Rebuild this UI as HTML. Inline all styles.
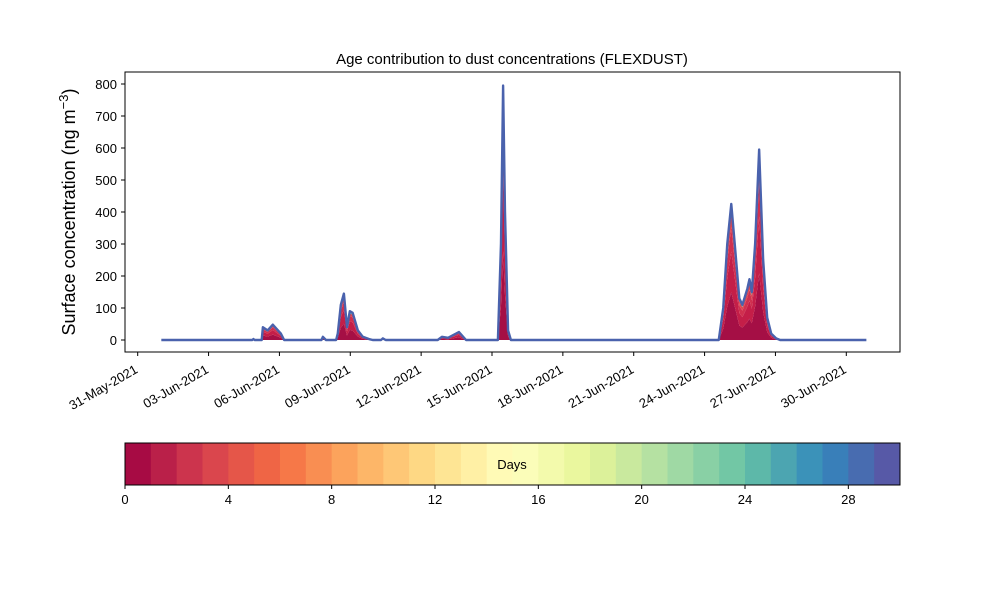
<!DOCTYPE html>
<html><head><meta charset="utf-8">
<style>
html,body{margin:0;padding:0;background:#fff;}
svg{display:block;font-family:"Liberation Sans","DejaVu Sans",sans-serif;}
</style></head>
<body>
<svg id="chart" width="1000" height="600" viewBox="0 0 1000 600">
  <text x="512" y="64" text-anchor="middle" font-size="15" fill="#000">Age contribution to dust concentrations (FLEXDUST)</text>
  <text transform="translate(75,212) rotate(-90)" text-anchor="middle" font-size="18" fill="#000">Surface concentration (ng m<tspan dy="-7" font-size="13">−3</tspan><tspan dy="7">)</tspan></text>
  <g id="plot"></g>
  <g id="cbar"></g>
</svg>
<script>
// Data: days since 31-May-2021 00:00, total concentration (ng m-3)
const times = [1,4.85,4.9,4.95,5.25,5.3,5.5,5.72,6.06,6.2,7.78,7.84,7.97,8.4,8.47,8.6,8.73,8.86,8.98,9.1,9.32,9.53,9.79,9.95,10.3,10.38,10.5,12.7,12.88,13.14,13.6,13.9,15.25,15.38,15.47,15.55,15.68,15.8,24.6,24.79,24.96,25.13,25.3,25.47,25.6,25.81,25.9,26.0,26.14,26.31,26.48,26.65,26.82,27.03,27.2,30.85];
const totals = [0,0,3,0,0,40,30,48,20,0,0,10,0,0,20,110,145,40,90,85,30,10,3,0,0,5,0,0,10,7,25,0,0,300,795,400,30,0,0,100,300,425,280,130,110,160,190,150,300,595,250,70,20,5,0,0];
const yTicks = [0,100,200,300,400,500,600,700,800];
const xTickLabels = ["31-May-2021","03-Jun-2021","06-Jun-2021","09-Jun-2021","12-Jun-2021","15-Jun-2021","18-Jun-2021","21-Jun-2021","24-Jun-2021","27-Jun-2021","30-Jun-2021"];
const xTickDays = [0,3,6,9,12,15,18,21,24,27,30];
const layerFractions = [0.35,0.3,0.18,0.1];
const layerColors = ["#a50f45","#c41e48","#d0304f","#dc4650"];
const cbarTicks = [0,4,8,12,16,20,24,28];
const nBins = 30;

const NS="http://www.w3.org/2000/svg";
const P={l:125,r:900,t:72,b:352};
const xs=d=>137.7+d*23.62;
const ys=v=>340-v*0.32;
function el(tag,attrs,parent){const e=document.createElementNS(NS,tag);for(const k in attrs)e.setAttribute(k,attrs[k]);parent.appendChild(e);return e;}
const plot=document.getElementById('plot');

let cum=new Array(totals.length).fill(0);
layerFractions.forEach((f,li)=>{
  const lower=cum.slice();
  cum=cum.map((c,i)=>c+totals[i]*f);
  let d="M"+times.map((t,i)=>xs(t)+","+ys(cum[i])).join("L");
  for(let i=times.length-1;i>=0;i--) d+="L"+xs(times[i])+","+ys(lower[i]);
  const p=el('path',{d:d+"Z",fill:layerColors[li],stroke:"none"},plot);
  
  
});
{
  let d="M"+times.map((t,i)=>xs(t)+","+ys(totals[i])).join("L");
  for(let i=times.length-1;i>=0;i--) d+="L"+xs(times[i])+","+ys(cum[i]);
  const p=el('path',{d:d+"Z",fill:"#66c2a5",stroke:"none"},plot);
  
  
}
const line=el('path',{d:"M"+times.map((t,i)=>xs(t)+","+ys(totals[i])).join("L"),fill:"none",stroke:"#4a62ad","stroke-width":2.4,"stroke-linejoin":"round"},plot);



const frame=el('rect',{x:P.l,y:P.t,width:P.r-P.l,height:P.b-P.t,fill:"none",stroke:"#000","stroke-width":1},plot);



yTicks.forEach(v=>{
  el('line',{x1:P.l-4,x2:P.l,y1:ys(v),y2:ys(v),stroke:"#000"},plot);
  const t=el('text',{x:P.l-8,y:ys(v)+5,"text-anchor":"end","font-size":"13"},plot);
  t.textContent=v;
  
  
});
xTickDays.forEach((d,i)=>{
  const x=xs(d);
  el('line',{x1:x,x2:x,y1:P.b,y2:P.b+4,stroke:"#000"},plot);
  const t=el('text',{transform:`translate(${x+1},${P.b+20}) rotate(-30)`,"text-anchor":"end","font-size":"13"},plot);
  t.textContent=xTickLabels[i];
  
  
});

const spectral=["#9e0142","#d53e4f","#f46d43","#fdae61","#fee08b","#ffffbf","#e6f598","#abdda4","#66c2a5","#3288bd","#5e4fa2"];
function hex(h){return [1,3,5].map(i=>parseInt(h.substr(i,2),16));}
function cmap(f){const p=f*10,i=Math.min(9,Math.floor(p)),u=p-i;const a=hex(spectral[i]),b=hex(spectral[i+1]);return "rgb("+a.map((c,k)=>Math.round(c+(b[k]-c)*u)).join(",")+")";}
const cb=document.getElementById('cbar');
const C={l:125,r:900,t:443,b:485};
const bw=(C.r-C.l)/nBins;
for(let i=0;i<nBins;i++){
  const r=el('rect',{x:C.l+i*bw,y:C.t,width:bw+0.5,height:C.b-C.t,fill:cmap((i+0.5)/nBins)},cb);
  
  
}
el('rect',{x:C.l,y:C.t,width:C.r-C.l,height:C.b-C.t,fill:"none",stroke:"#000"},cb);
const dl=el('text',{x:512,y:469,"text-anchor":"middle","font-size":"13"},cb);
dl.textContent="Days";


cbarTicks.forEach(v=>{
  const x=C.l+v*bw;
  el('line',{x1:x,x2:x,y1:C.b,y2:C.b+4,stroke:"#000"},cb);
  const t=el('text',{x:x,y:C.b+19,"text-anchor":"middle","font-size":"13"},cb);
  t.textContent=v;
  
  
});
</script>
</body></html>
